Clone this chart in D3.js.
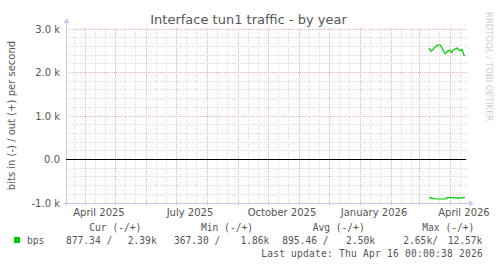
<!DOCTYPE html>
<html>
<head>
<meta charset="utf-8">
<script src="https://cdn.jsdelivr.net/npm/d3@7"></script>
<style>
  html, body { margin: 0; padding: 0; background: #fff; }
  svg { display: block; font-family: 'DejaVu Sans', sans-serif; }
  .mono { font-family: 'DejaVu Sans Mono', monospace; }
</style>
</head>
<body>
<div id="chart"></div>
<script>
const dates = [
  '2026-03-11', '2026-03-13', '2026-03-15', '2026-03-17', '2026-03-19', '2026-03-22',
  '2026-03-23', '2026-03-25', '2026-03-27', '2026-03-28', '2026-03-30', '2026-04-01',
  '2026-04-03', '2026-04-04', '2026-04-06', '2026-04-08', '2026-04-09', '2026-04-11',
  '2026-04-13', '2026-04-14', '2026-04-15', '2026-04-16'
];
// out (+), bits per second
const outValues = [
  2550, 2475, 2515, 2575, 2610, 2630, 2590, 2515, 2420, 2440, 2490,
  2495, 2450, 2495, 2530, 2550, 2530, 2490, 2515, 2450, 2380, 2380
];
// in (-), bits per second (drawn below zero)
const inValues = [
  900, 890, 910, 920, 920, 920, 920, 920, 915, 900, 890,
  890, 890, 890, 900, 890, 910, 890, 900, 890, 880, 880
];
const yTicks = [-1000, 0, 1000, 2000, 3000];
const yTickLabels = ['-1.0 k', '0.0', '1.0 k', '2.0 k', '3.0 k'];
const xLabelMonths = ['2025-04-01', '2025-07-01', '2025-10-01', '2026-01-01', '2026-04-01'];
const legendHeaders = ['Cur (-/+)', 'Min (-/+)', 'Avg (-/+)', 'Max (-/+)'];
const legendIn = ['877.34', '367.30', '895.46', '2.65k'];
const legendOut = ['2.39k', '1.86k', '2.50k', '12.57k'];
const lastUpdate = 'Thu Apr 16 00:00:38 2026';

const width = 497;
const height = 264;
const plot = {left: 66, right: 466, top: 28, bottom: 203};
const textColor = '#555';
const axisColor = '#c4cbf2';
const majorColor = '#ecb4b4';
const minorColor = '#dcdcdc';
const lineColor = '#00cc00';

const parse = d3.utcParse('%Y-%m-%d');
const end = new Date(Date.UTC(2026, 3, 16, 0, 0, 38));
const start = d3.utcDay.offset(end, -400);

const x = d3.scaleUtc()
  .domain([start, end])
  .range([65, 465]);
const y = d3.scaleLinear()
  .domain([-1000, 3000])
  .range([202.5, 28.5]);
const px = v => Math.round(v) + 0.5;

const svg = d3.select('#chart')
  .append('svg')
  .attr('width', width)
  .attr('height', height);

svg.append('rect')
  .attr('width', width)
  .attr('height', height)
  .attr('fill', '#fff');

// grid
const grid = svg.append('g')
  .attr('fill', 'none')
  .attr('stroke-width', 1)
  .attr('stroke-dasharray', '1,1');

const minorY = d3.range(-1000, 3001, 200).filter(v => v % 1000 !== 0);
grid.selectAll('.hminor')
  .data(minorY)
  .enter().append('line')
  .attr('x1', plot.left).attr('x2', plot.right + 2)
  .attr('y1', d => px(y(d))).attr('y2', d => px(y(d)))
  .attr('stroke', minorColor);

const minorX = d3.utcDay.range(start, end)
  .filter(d => d.getUTCDate() === 11 || d.getUTCDate() === 21);
grid.selectAll('.vminor')
  .data(minorX)
  .enter().append('line')
  .attr('x1', d => px(x(d))).attr('x2', d => px(x(d)))
  .attr('y1', plot.top).attr('y2', plot.bottom)
  .attr('stroke', minorColor);

grid.selectAll('.hmajor')
  .data(yTicks.filter(v => v > -1000))
  .enter().append('line')
  .attr('x1', plot.left).attr('x2', plot.right + 2)
  .attr('y1', d => px(y(d))).attr('y2', d => px(y(d)))
  .attr('stroke', majorColor);

const months = d3.utcMonth.range(start, end);
grid.selectAll('.vmajor')
  .data(months)
  .enter().append('line')
  .attr('x1', d => px(x(d))).attr('x2', d => px(x(d)))
  .attr('y1', plot.top).attr('y2', plot.bottom + 3)
  .attr('stroke', majorColor);

// axes with arrows
svg.append('line')
  .attr('x1', plot.left - 3).attr('x2', plot.right + 4)
  .attr('y1', px(y(-1000))).attr('y2', px(y(-1000)))
  .attr('stroke', axisColor);
svg.append('line')
  .attr('x1', plot.left + 0.5).attr('x2', plot.left + 0.5)
  .attr('y1', plot.bottom + 3).attr('y2', 22)
  .attr('stroke', axisColor);
svg.append('path')
  .attr('d', `M${plot.left + 0.5},18 L${plot.left + 3.5},23 L${plot.left - 2.5},23 Z`)
  .attr('fill', axisColor);
svg.append('path')
  .attr('d', `M${plot.right + 8},${px(y(-1000))} L${plot.right + 3},${px(y(-1000)) - 3} L${plot.right + 3},${px(y(-1000)) + 3} Z`)
  .attr('fill', axisColor);

// y tick labels
svg.append('g')
  .selectAll('text')
  .data(yTicks)
  .enter().append('text')
  .attr('x', 60)
  .attr('y', d => px(y(d)) + 3.5)
  .attr('text-anchor', 'end')
  .attr('font-size', '10px')
  .attr('fill', textColor)
  .text((d, i) => yTickLabels[i]);

// x labels, centred in the middle of the month like rrdtool does
svg.append('g')
  .selectAll('text')
  .data(xLabelMonths.map(parse))
  .enter().append('text')
  .attr('x', d => x(d3.utcDay.offset(d, 14)))
  .attr('y', 216)
  .attr('text-anchor', 'middle')
  .attr('font-size', '10px')
  .attr('fill', textColor)
  .text(d => d3.utcFormat('%B %Y')(d));

// zero line
svg.append('line')
  .attr('x1', plot.left).attr('x2', plot.right)
  .attr('y1', px(y(0))).attr('y2', px(y(0)))
  .attr('stroke', '#000');

// series
const line = d3.line()
  .x(d => x(d.date))
  .y(d => y(d.value));
const outData = dates.map((d, i) => ({date: parse(d), value: outValues[i]}));
const inData = dates.map((d, i) => ({date: parse(d), value: -inValues[i]}));
[outData, inData].forEach(series => {
  svg.append('path')
    .datum(series)
    .attr('fill', 'none')
    .attr('stroke', lineColor)
    .attr('stroke-width', 1.2)
    .attr('d', line);
});

// title and axis name
svg.append('text')
  .attr('x', width / 2)
  .attr('y', 24)
  .attr('text-anchor', 'middle')
  .attr('font-size', '13px')
  .attr('fill', textColor)
  .text('Interface tun1 traffic - by year');
svg.append('text')
  .attr('transform', `translate(15, ${(plot.top + plot.bottom) / 2}) rotate(-90)`)
  .attr('text-anchor', 'middle')
  .attr('font-size', '10px')
  .attr('fill', textColor)
  .text('bits in (-) / out (+) per second');
svg.append('text')
  .attr('transform', 'translate(486, 12) rotate(90)')
  .attr('font-size', '8.5px')
  .attr('fill', '#cfcfcf')
  .text('RRDTOOL / TOBI OETIKER');

// legend
const legend = svg.append('g')
  .attr('class', 'mono')
  .attr('font-size', '9.6px')
  .attr('fill', textColor);
const headerX = [89.3, 201, 312.7, 422.3];
const inX = [66, 174, 282.3, 403.3];
const outX = [156.7, 269.3, 375, 482.3];

legend.selectAll('.head')
  .data(legendHeaders)
  .enter().append('text')
  .attr('x', (d, i) => headerX[i])
  .attr('y', 231)
  .text(d => d);
legend.selectAll('.in')
  .data(legendIn)
  .enter().append('text')
  .attr('x', (d, i) => inX[i])
  .attr('y', 244)
  .text((d, i) => i < 3 ? `${d} /` : `${d}/`);
legend.selectAll('.out')
  .data(legendOut)
  .enter().append('text')
  .attr('x', (d, i) => outX[i])
  .attr('y', 244)
  .attr('text-anchor', 'end')
  .text(d => d);

svg.append('rect')
  .attr('x', 14).attr('y', 237)
  .attr('width', 6).attr('height', 6)
  .attr('fill', lineColor);
legend.append('text')
  .attr('x', 27)
  .attr('y', 244)
  .text('bps');
legend.append('text')
  .attr('x', 483)
  .attr('y', 257)
  .attr('text-anchor', 'end')
  .attr('letter-spacing', '0.22px')
  .text(`Last update: ${lastUpdate}`);
</script>
</body>
</html>
